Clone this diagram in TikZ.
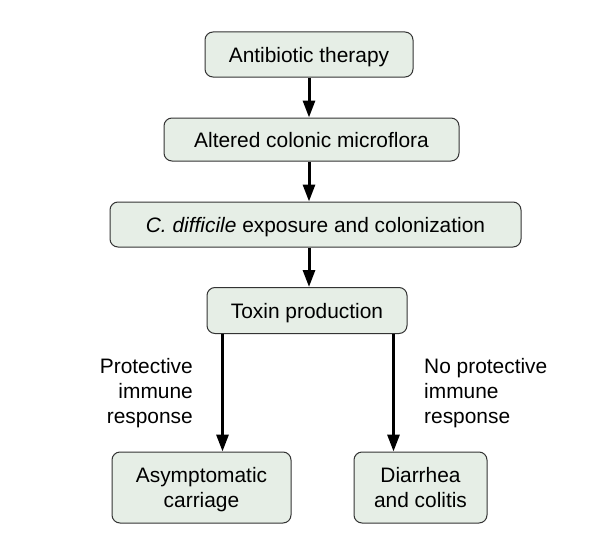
\documentclass[tikz,border=0pt]{standalone}
\usepackage{fontspec}
\setmainfont{Liberation Sans}
\usetikzlibrary{arrows.meta}
\definecolor{boxfill}{HTML}{E6EEE6}
\definecolor{boxline}{HTML}{333333}
\begin{document}
\begin{tikzpicture}[x=1pt,y=-1pt,
  box/.style={draw=boxline, fill=boxfill, rounded corners=8pt, line width=1pt,
    font=\fontsize{20.9}{25}\selectfont, inner sep=0pt, align=center, text depth=-1pt},
  arr/.style={-{Triangle[length=17pt,width=12pt]}, line width=3pt},
  lbl/.style={font=\fontsize{20.9}{25}\selectfont, inner sep=0pt}]
\useasboundingbox (0,0) rectangle (594,535);
\node[box, minimum width=208pt, minimum height=45pt] (a) at (309,54.5) {Antibiotic therapy};
\node[box, minimum width=295pt, minimum height=43pt] (b) at (311.5,139.5) {Altered colonic microflora};
\node[box, minimum width=411pt, minimum height=45pt] (c) at (315.5,224.5) {\textit{C. difficile} exposure and colonization};
\node[box, minimum width=200pt, minimum height=46pt] (d) at (307,310.5) {Toxin production};
\node[box, minimum width=179pt, minimum height=71pt] (e) at (201.5,487.5) {Asymptomatic\\carriage};
\node[box, minimum width=133pt, minimum height=71pt] (f) at (420.5,487.5) {Diarrhea\\and colitis};
\draw[arr] (a.south) -- (a.south |- b.north);
\draw[arr] (b.south -| a.south) -- (a.south |- c.north);
\draw[arr] (c.south -| a.south) -- (a.south |- d.north);
\draw[arr] ([xshift=16pt]d.south west) -- ([xshift=16pt]d.south west |- e.north);
\draw[arr] ([xshift=-14pt]d.south east) -- ([xshift=-14pt]d.south east |- f.north);
\node[lbl, anchor=east, align=right] (l) at (193,393) {Protective\\immune\\response};
\node[lbl, anchor=west, align=left] (r) at (424,393) {No protective\\immune\\response};
\end{tikzpicture}
\end{document}
